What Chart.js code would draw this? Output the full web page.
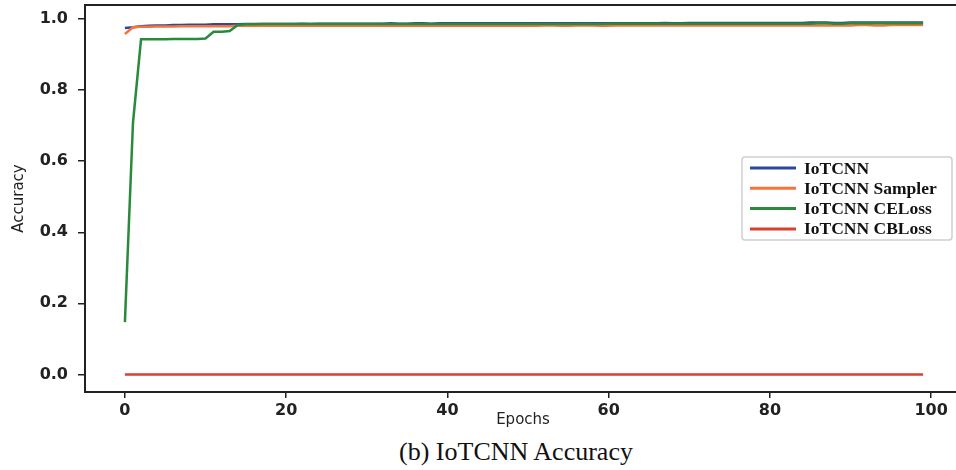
<!DOCTYPE html>
<html>
<head>
<meta charset="utf-8">
<script src="https://cdn.jsdelivr.net/npm/chart.js@4/dist/chart.umd.min.js"></script>
<style>
    body { margin: 0; background: #fff; overflow: hidden; }
    #wrap { position: relative; width: 956px; height: 470px; overflow: hidden; }
    #chart { position: absolute; left: 0; top: 0; }
    #caption {
        position: absolute; left: 0; top: 438px; width: 1032px; text-align: center;
        font-family: "Liberation Serif", serif; font-size: 26px; line-height: 28px; color: #111;
    }
</style>
</head>
<body>
<div id="wrap">
    <canvas id="chart" width="980" height="432"></canvas>
    <div id="caption">(b) IoTCNN Accuracy</div>
</div>
<script>
const epochs = [
    0, 1, 2, 3, 4, 5, 6, 7, 8, 9,
    10, 11, 12, 13, 14, 15, 16, 17, 18, 19,
    20, 21, 22, 23, 24, 25, 26, 27, 28, 29,
    30, 31, 32, 33, 34, 35, 36, 37, 38, 39,
    40, 41, 42, 43, 44, 45, 46, 47, 48, 49,
    50, 51, 52, 53, 54, 55, 56, 57, 58, 59,
    60, 61, 62, 63, 64, 65, 66, 67, 68, 69,
    70, 71, 72, 73, 74, 75, 76, 77, 78, 79,
    80, 81, 82, 83, 84, 85, 86, 87, 88, 89,
    90, 91, 92, 93, 94, 95, 96, 97, 98, 99
];

const iotcnn = [
    0.975, 0.977, 0.980, 0.981, 0.982, 0.982, 0.983, 0.983, 0.984, 0.984,
    0.984, 0.985, 0.985, 0.985, 0.985, 0.986, 0.986, 0.986, 0.986, 0.986,
    0.986, 0.986, 0.987, 0.986, 0.987, 0.987, 0.987, 0.987, 0.987, 0.987,
    0.987, 0.987, 0.987, 0.988, 0.987, 0.987, 0.988, 0.988, 0.987, 0.988,
    0.988, 0.988, 0.988, 0.988, 0.988, 0.988, 0.988, 0.988, 0.988, 0.988,
    0.988, 0.988, 0.988, 0.988, 0.988, 0.988, 0.988, 0.988, 0.988, 0.988,
    0.988, 0.988, 0.988, 0.988, 0.988, 0.988, 0.988, 0.989, 0.988, 0.988,
    0.989, 0.989, 0.989, 0.989, 0.989, 0.989, 0.989, 0.989, 0.989, 0.989,
    0.989, 0.989, 0.989, 0.989, 0.989, 0.990, 0.990, 0.990, 0.989, 0.989,
    0.990, 0.990, 0.990, 0.990, 0.990, 0.990, 0.990, 0.990, 0.990, 0.990
];

const sampler = [
    0.958, 0.977, 0.978, 0.978, 0.979, 0.979, 0.979, 0.980, 0.980, 0.980,
    0.980, 0.980, 0.980, 0.980, 0.981, 0.981, 0.981, 0.981, 0.981, 0.981,
    0.981, 0.981, 0.981, 0.981, 0.981, 0.981, 0.981, 0.981, 0.981, 0.981,
    0.981, 0.981, 0.981, 0.981, 0.981, 0.981, 0.981, 0.981, 0.981, 0.981,
    0.981, 0.981, 0.981, 0.981, 0.981, 0.981, 0.982, 0.981, 0.981, 0.981,
    0.981, 0.981, 0.982, 0.982, 0.981, 0.981, 0.982, 0.982, 0.982, 0.981,
    0.981, 0.982, 0.982, 0.982, 0.982, 0.982, 0.982, 0.982, 0.982, 0.982,
    0.982, 0.982, 0.982, 0.982, 0.982, 0.982, 0.982, 0.982, 0.982, 0.982,
    0.982, 0.982, 0.982, 0.982, 0.982, 0.982, 0.982, 0.982, 0.982, 0.982,
    0.982, 0.983, 0.983, 0.982, 0.982, 0.983, 0.983, 0.983, 0.983, 0.983
];

const ceLoss = [
    0.147, 0.708, 0.943, 0.943, 0.943, 0.943, 0.944, 0.944, 0.944, 0.944,
    0.945, 0.964, 0.964, 0.966, 0.983, 0.985, 0.985, 0.986, 0.986, 0.986,
    0.986, 0.986, 0.986, 0.986, 0.986, 0.986, 0.986, 0.986, 0.986, 0.986,
    0.986, 0.986, 0.986, 0.986, 0.986, 0.986, 0.986, 0.986, 0.986, 0.986,
    0.986, 0.986, 0.986, 0.986, 0.986, 0.986, 0.986, 0.986, 0.986, 0.986,
    0.986, 0.986, 0.986, 0.986, 0.986, 0.986, 0.986, 0.987, 0.986, 0.986,
    0.987, 0.987, 0.987, 0.987, 0.987, 0.987, 0.987, 0.987, 0.987, 0.987,
    0.987, 0.987, 0.987, 0.987, 0.987, 0.987, 0.987, 0.987, 0.987, 0.987,
    0.987, 0.987, 0.987, 0.987, 0.987, 0.987, 0.988, 0.988, 0.987, 0.987,
    0.988, 0.988, 0.988, 0.988, 0.988, 0.988, 0.988, 0.988, 0.988, 0.988
];

const cbLoss = [
    0, 0, 0, 0, 0, 0, 0, 0, 0, 0,
    0, 0, 0, 0, 0, 0, 0, 0, 0, 0,
    0, 0, 0, 0, 0, 0, 0, 0, 0, 0,
    0, 0, 0, 0, 0, 0, 0, 0, 0, 0,
    0, 0, 0, 0, 0, 0, 0, 0, 0, 0,
    0, 0, 0, 0, 0, 0, 0, 0, 0, 0,
    0, 0, 0, 0, 0, 0, 0, 0, 0, 0,
    0, 0, 0, 0, 0, 0, 0, 0, 0, 0,
    0, 0, 0, 0, 0, 0, 0, 0, 0, 0,
    0, 0, 0, 0, 0, 0, 0, 0, 0, 0
];

const seriesNames = ['IoTCNN', 'IoTCNN Sampler', 'IoTCNN CELoss', 'IoTCNN CBLoss'];
const xTicks = [0, 20, 40, 60, 80, 100];
const yTicks = [0.0, 0.2, 0.4, 0.6, 0.8, 1.0];

const colors = ['#2b4a9e', '#f4743b', '#2a8a3c', '#d9402e'];
const tickFont = { family: 'DejaVu Sans', size: 16, weight: 'bold' };

function toPoints(values) {
    return values.map((v, i) => ({ x: epochs[i], y: v }));
}

// legend + top spine + x title, drawn on the canvas
const extras = {
    id: 'extras',
    afterDraw(chart) {
        const ctx = chart.ctx;
        const area = chart.chartArea;
        ctx.save();
        ctx.strokeStyle = '#222';
        ctx.lineWidth = 2;
        ctx.beginPath();
        ctx.moveTo(area.left, area.top);
        ctx.lineTo(area.right, area.top);
        ctx.lineTo(area.right, area.bottom);
        ctx.stroke();

        // x title
        ctx.fillStyle = '#222';
        ctx.font = '15px "DejaVu Sans"';
        ctx.textAlign = 'center';
        ctx.textBaseline = 'middle';
        ctx.fillText('Epochs', 523, 420);

        // legend box
        const bx = 742, by = 157, bw = 210, bh = 83;
        ctx.fillStyle = '#fff';
        ctx.strokeStyle = '#cfcfcf';
        ctx.lineWidth = 1.5;
        ctx.beginPath();
        ctx.roundRect(bx, by, bw, bh, 3);
        ctx.fill();
        ctx.stroke();
        ctx.font = 'bold 17.5px "Liberation Serif"';
        ctx.textAlign = 'left';
        chart.data.datasets.forEach((ds, i) => {
            const y = by + 11 + i * 20.3;
            ctx.strokeStyle = ds.borderColor;
            ctx.lineWidth = 3;
            ctx.beginPath();
            ctx.moveTo(750, y);
            ctx.lineTo(796, y);
            ctx.stroke();
            ctx.fillStyle = '#111';
            ctx.fillText(ds.label, 804, y + 1);
        });
        ctx.restore();
    }
};

new Chart(document.getElementById('chart'), {
    type: 'line',
    data: {
        datasets: [iotcnn, sampler, ceLoss, cbLoss].map((vals, i) => ({
            label: seriesNames[i],
            data: toPoints(vals),
            borderColor: colors[i],
            backgroundColor: colors[i],
            borderWidth: 2.5,
            pointRadius: 0,
            tension: 0,
            order: 4 - i
        }))
    },
    options: {
        responsive: false,
        devicePixelRatio: 1,
        animation: false,
        layout: { padding: { top: 5, right: 17, left: 0, bottom: 0 } },
        plugins: {
            legend: { display: false },
            tooltip: { enabled: false }
        },
        scales: {
            x: {
                type: 'linear',
                min: -4.95,
                max: 103.95,
                afterBuildTicks: (scale) => {
                    scale.ticks = xTicks.map(v => ({ value: v }));
                },
                afterFit: (scale) => {
                    scale.height = 40;
                    scale.paddingLeft = 0;
                    scale.paddingRight = 0;
                },
                grid: { drawOnChartArea: false, color: '#222', lineWidth: 1.5, tickLength: 6 },
                border: { color: '#222', width: 2 },
                ticks: {
                    font: tickFont, color: '#222', padding: 3, maxRotation: 0,
                    callback: (v) => String(v)
                }
            },
            y: {
                min: -0.0495,
                max: 1.0395,
                afterBuildTicks: (scale) => {
                    scale.ticks = yTicks.map(v => ({ value: v }));
                },
                afterFit: (scale) => {
                    scale.width = 85;
                    scale.paddingTop = 0;
                    scale.paddingBottom = 0;
                },
                grid: { drawOnChartArea: false, color: '#222', lineWidth: 1.5, tickLength: 7 },
                border: { color: '#222', width: 2 },
                title: {
                    display: true,
                    text: 'Accuracy',
                    font: { family: 'DejaVu Sans', size: 15 },
                    color: '#222',
                    padding: { top: 10, bottom: 0 }
                },
                ticks: {
                    font: tickFont, color: '#222', padding: 10,
                    callback: (v) => v.toFixed(1)
                }
            }
        }
    },
    plugins: [extras]
});
</script>
</body>
</html>
